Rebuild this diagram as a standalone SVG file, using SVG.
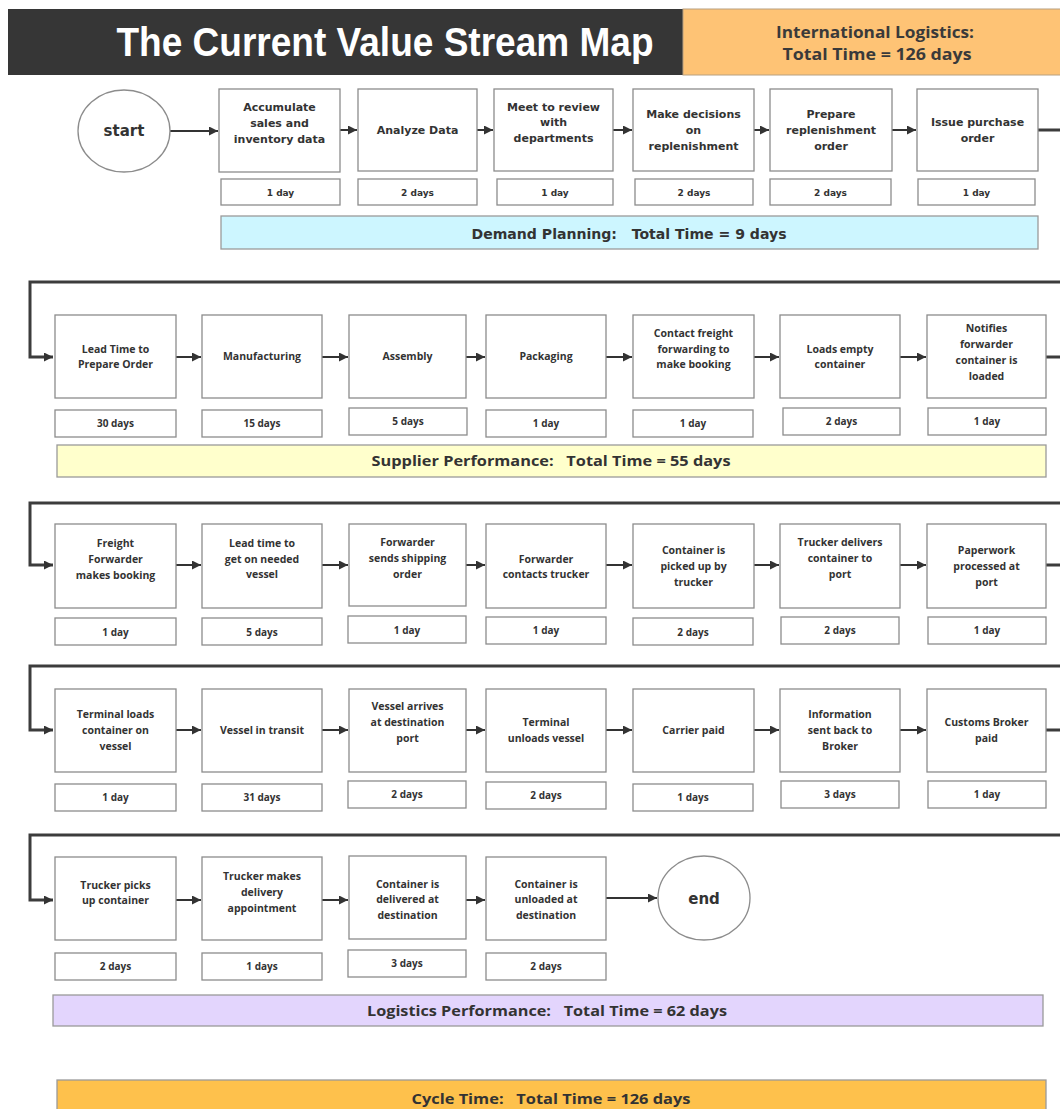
<svg xmlns="http://www.w3.org/2000/svg" width="1060" height="1109" viewBox="0 0 1060 1109">
  <defs>
    <style>
      .bg { fill: #ffffff; }
      .box { fill: #ffffff; stroke: #8c8c8c; stroke-width: 1.3; }
      .oval { fill: #ffffff; stroke: #8c8c8c; stroke-width: 1.3; }
      .t1 { font-family: "DejaVu Sans", Verdana, sans-serif; font-weight: bold; font-size: 11px; fill: #333333; text-anchor: middle; }
      .d1 { font-family: "DejaVu Sans", Verdana, sans-serif; font-weight: bold; font-size: 9px; fill: #333333; text-anchor: middle; }
      .t2 { font-family: "Open Sans", "DejaVu Sans", sans-serif; font-weight: bold; font-size: 10.5px; fill: #333333; text-anchor: middle; }
      .d2 { font-family: "Open Sans", "DejaVu Sans", sans-serif; font-weight: bold; font-size: 10px; fill: #333333; text-anchor: middle; }
      .term { font-family: "DejaVu Sans", Verdana, sans-serif; font-weight: bold; font-size: 15px; fill: #333333; text-anchor: middle; }
      .bar { stroke: #9a9a9a; stroke-width: 1.3; }
      .bartxt { font-family: "Open Sans", "DejaVu Sans", sans-serif; font-weight: bold; font-size: 14.5px; fill: #333333; text-anchor: middle; white-space: pre; }
      .flow { fill: none; stroke: #333333; stroke-width: 2; }
      .wrap { fill: none; stroke: #3c3c3c; stroke-width: 3; }
    </style>
    <marker id="ah" viewBox="0 0 10 10" refX="10" refY="5" markerWidth="10" markerHeight="9" markerUnits="userSpaceOnUse" orient="auto">
      <path d="M0,0 L10,5 L0,10 z" fill="#333333"/>
    </marker>
  </defs>

  <rect class="bg" x="0" y="0" width="1060" height="1109"/>

  <!-- title banner -->
  <g id="header">
    <rect x="8" y="9" width="675" height="66" fill="#363636"/>
    <text x="385" y="56" font-family="Liberation Sans, Arial, sans-serif" font-weight="bold" font-size="40" fill="#ffffff" text-anchor="middle" textLength="537" lengthAdjust="spacingAndGlyphs">The Current Value Stream Map</text>
    <rect x="683" y="9" width="380" height="66" fill="#fec375" stroke="#b8a080" stroke-width="1"/>
    <text x="875" y="38" font-family="Open Sans, DejaVu Sans, sans-serif" font-weight="bold" font-size="16" fill="#3a3a3a" text-anchor="middle" textLength="198" lengthAdjust="spacingAndGlyphs">International Logistics:</text>
    <text x="877" y="60" font-family="Open Sans, DejaVu Sans, sans-serif" font-weight="bold" font-size="16" fill="#3a3a3a" text-anchor="middle" textLength="189" lengthAdjust="spacingAndGlyphs">Total Time = 126 days</text>
  </g>

  <!-- connectors -->
  <g id="connectors">
    <!-- row 1 -->
    <path class="flow" d="M170,131 H218" marker-end="url(#ah)"/>
    <path class="flow" d="M340,130 H357" marker-end="url(#ah)"/>
    <path class="flow" d="M477,130 H493" marker-end="url(#ah)"/>
    <path class="flow" d="M613,130 H632" marker-end="url(#ah)"/>
    <path class="flow" d="M754,130 H769" marker-end="url(#ah)"/>
    <path class="flow" d="M892,130 H916" marker-end="url(#ah)"/>
    <path class="wrap" d="M1038,130 H1075 V282 H30 V357 H53" marker-end="url(#ah)"/>
    <!-- row 2 -->
    <path class="flow" d="M176,357 H201" marker-end="url(#ah)"/>
    <path class="flow" d="M322,357 H348" marker-end="url(#ah)"/>
    <path class="flow" d="M466,357 H485" marker-end="url(#ah)"/>
    <path class="flow" d="M606,357 H632" marker-end="url(#ah)"/>
    <path class="flow" d="M754,357 H779" marker-end="url(#ah)"/>
    <path class="flow" d="M900,357 H926" marker-end="url(#ah)"/>
    <path class="wrap" d="M1046,357 H1075 V503 H30 V565 H53" marker-end="url(#ah)"/>
    <!-- row 3 -->
    <path class="flow" d="M176,565 H201" marker-end="url(#ah)"/>
    <path class="flow" d="M322,565 H348" marker-end="url(#ah)"/>
    <path class="flow" d="M466,565 H485" marker-end="url(#ah)"/>
    <path class="flow" d="M606,565 H632" marker-end="url(#ah)"/>
    <path class="flow" d="M754,565 H779" marker-end="url(#ah)"/>
    <path class="flow" d="M900,565 H926" marker-end="url(#ah)"/>
    <path class="wrap" d="M1046,565 H1075 V666 H30 V730 H53" marker-end="url(#ah)"/>
    <!-- row 4 -->
    <path class="flow" d="M176,730 H201" marker-end="url(#ah)"/>
    <path class="flow" d="M322,730 H348" marker-end="url(#ah)"/>
    <path class="flow" d="M466,730 H485" marker-end="url(#ah)"/>
    <path class="flow" d="M606,730 H632" marker-end="url(#ah)"/>
    <path class="flow" d="M754,730 H779" marker-end="url(#ah)"/>
    <path class="flow" d="M900,730 H926" marker-end="url(#ah)"/>
    <path class="wrap" d="M1046,730 H1075 V835 H30 V900 H53" marker-end="url(#ah)"/>
    <!-- row 5 -->
    <path class="flow" d="M176,900 H201" marker-end="url(#ah)"/>
    <path class="flow" d="M322,900 H348" marker-end="url(#ah)"/>
    <path class="flow" d="M466,900 H485" marker-end="url(#ah)"/>
    <path class="flow" d="M606,898 H657" marker-end="url(#ah)"/>
  </g>

  <!-- row 1: demand planning -->
  <g id="start">
    <ellipse class="oval" cx="124" cy="131" rx="46" ry="41"/>
    <text class="term" x="124" y="136">start</text>
  </g>
  <g id="accumulate">
    <rect class="box" x="219" y="89" width="121" height="83"/>
    <text class="t1" x="279.5"><tspan x="279.5" y="111">Accumulate</tspan><tspan x="279.5" y="127">sales and</tspan><tspan x="279.5" y="143">inventory data</tspan></text>
    <rect class="box" x="221" y="179" width="119" height="26"/>
    <text class="d1" x="280.5" y="196">1 day</text>
  </g>
  <g id="analyze">
    <rect class="box" x="358" y="89" width="119" height="82"/>
    <text class="t1" x="417.5" y="134">Analyze Data</text>
    <rect class="box" x="358" y="179" width="119" height="26"/>
    <text class="d1" x="417.5" y="196">2 days</text>
  </g>
  <g id="meet">
    <rect class="box" x="494" y="89" width="119" height="82"/>
    <text class="t1"><tspan x="553.5" y="111">Meet to review</tspan><tspan x="553.5" y="126">with</tspan><tspan x="553.5" y="142">departments</tspan></text>
    <rect class="box" x="497" y="179" width="116" height="26"/>
    <text class="d1" x="555" y="196">1 day</text>
  </g>
  <g id="decisions">
    <rect class="box" x="633" y="89" width="121" height="82"/>
    <text class="t1"><tspan x="693.5" y="118">Make decisions</tspan><tspan x="693.5" y="134">on</tspan><tspan x="693.5" y="150">replenishment</tspan></text>
    <rect class="box" x="635" y="179" width="118" height="26"/>
    <text class="d1" x="694" y="196">2 days</text>
  </g>
  <g id="prepare">
    <rect class="box" x="770" y="89" width="122" height="82"/>
    <text class="t1"><tspan x="831" y="118">Prepare</tspan><tspan x="831" y="134">replenishment</tspan><tspan x="831" y="150">order</tspan></text>
    <rect class="box" x="770" y="179" width="121" height="26"/>
    <text class="d1" x="830.5" y="196">2 days</text>
  </g>
  <g id="issue">
    <rect class="box" x="917" y="89" width="121" height="82"/>
    <text class="t1"><tspan x="977.5" y="126">Issue purchase</tspan><tspan x="977.5" y="142">order</tspan></text>
    <rect class="box" x="918" y="179" width="117" height="26"/>
    <text class="d1" x="976.5" y="196">1 day</text>
  </g>
  <g id="demand-planning">
    <rect class="bar" x="221" y="216" width="817" height="33" fill="#cdf6ff"/>
    <text x="629" y="239" font-family="DejaVu Sans, Verdana, sans-serif" font-weight="bold" font-size="13.5" fill="#333333" text-anchor="middle" xml:space="preserve" textLength="315" lengthAdjust="spacingAndGlyphs">Demand Planning:   Total Time = 9 days</text>
  </g>

  <!-- row 2: supplier -->
  <g id="lead-time-prepare">
    <rect class="box" x="55" y="315" width="121" height="83"/>
    <text class="t2"><tspan x="115.5" y="353">Lead Time to</tspan><tspan x="115.5" y="368">Prepare Order</tspan></text>
    <rect class="box" x="55" y="410" width="121" height="27"/>
    <text class="d2" x="115.5" y="427">30 days</text>
  </g>
  <g id="manufacturing">
    <rect class="box" x="202" y="315" width="120" height="83"/>
    <text class="t2" x="262" y="360">Manufacturing</text>
    <rect class="box" x="202" y="410" width="120" height="27"/>
    <text class="d2" x="262" y="427">15 days</text>
  </g>
  <g id="assembly">
    <rect class="box" x="349" y="315" width="117" height="83"/>
    <text class="t2" x="407.5" y="360">Assembly</text>
    <rect class="box" x="349" y="408" width="118" height="27"/>
    <text class="d2" x="408" y="425">5 days</text>
  </g>
  <g id="packaging">
    <rect class="box" x="486" y="315" width="120" height="83"/>
    <text class="t2" x="546" y="360">Packaging</text>
    <rect class="box" x="486" y="410" width="120" height="27"/>
    <text class="d2" x="546" y="427">1 day</text>
  </g>
  <g id="contact-freight">
    <rect class="box" x="633" y="315" width="121" height="83"/>
    <text class="t2"><tspan x="693.5" y="337">Contact freight</tspan><tspan x="693.5" y="353">forwarding to</tspan><tspan x="693.5" y="368">make booking</tspan></text>
    <rect class="box" x="633" y="410" width="120" height="27"/>
    <text class="d2" x="693" y="427">1 day</text>
  </g>
  <g id="loads-empty">
    <rect class="box" x="780" y="315" width="120" height="83"/>
    <text class="t2"><tspan x="840" y="353">Loads empty</tspan><tspan x="840" y="368">container</tspan></text>
    <rect class="box" x="783" y="408" width="117" height="27"/>
    <text class="d2" x="841.5" y="425">2 days</text>
  </g>
  <g id="notifies">
    <rect class="box" x="927" y="315" width="119" height="83"/>
    <text class="t2"><tspan x="986.5" y="332">Notifies</tspan><tspan x="986.5" y="348">forwarder</tspan><tspan x="986.5" y="364">container is</tspan><tspan x="986.5" y="380">loaded</tspan></text>
    <rect class="box" x="928" y="408" width="118" height="27"/>
    <text class="d2" x="987" y="425">1 day</text>
  </g>
  <g id="supplier-performance">
    <rect class="bar" x="57" y="445" width="989" height="32" fill="#ffffcc"/>
    <text class="bartxt" x="551" y="466" xml:space="preserve" textLength="359" lengthAdjust="spacingAndGlyphs">Supplier Performance:   Total Time = 55 days</text>
  </g>

  <!-- row 3 -->
  <g id="freight-booking">
    <rect class="box" x="55" y="524" width="121" height="84"/>
    <text class="t2"><tspan x="115.5" y="547">Freight</tspan><tspan x="115.5" y="563">Forwarder</tspan><tspan x="115.5" y="579">makes booking</tspan></text>
    <rect class="box" x="55" y="618" width="121" height="27"/>
    <text class="d2" x="115.5" y="636">1 day</text>
  </g>
  <g id="lead-time-vessel">
    <rect class="box" x="202" y="524" width="120" height="84"/>
    <text class="t2"><tspan x="262" y="547">Lead time to</tspan><tspan x="262" y="563">get on needed</tspan><tspan x="262" y="578">vessel</tspan></text>
    <rect class="box" x="202" y="618" width="120" height="27"/>
    <text class="d2" x="262" y="636">5 days</text>
  </g>
  <g id="shipping-order">
    <rect class="box" x="349" y="524" width="117" height="82"/>
    <text class="t2"><tspan x="407.5" y="546">Forwarder</tspan><tspan x="407.5" y="562">sends shipping</tspan><tspan x="407.5" y="578">order</tspan></text>
    <rect class="box" x="348" y="616" width="118" height="27"/>
    <text class="d2" x="407" y="634">1 day</text>
  </g>
  <g id="contacts-trucker">
    <rect class="box" x="486" y="524" width="120" height="84"/>
    <text class="t2"><tspan x="546" y="563">Forwarder</tspan><tspan x="546" y="578">contacts trucker</tspan></text>
    <rect class="box" x="486" y="617" width="120" height="27"/>
    <text class="d2" x="546" y="634">1 day</text>
  </g>
  <g id="picked-up">
    <rect class="box" x="633" y="524" width="121" height="84"/>
    <text class="t2"><tspan x="693.5" y="554">Container is</tspan><tspan x="693.5" y="570">picked up by</tspan><tspan x="693.5" y="586">trucker</tspan></text>
    <rect class="box" x="633" y="618" width="120" height="27"/>
    <text class="d2" x="693" y="636">2 days</text>
  </g>
  <g id="delivers-port">
    <rect class="box" x="780" y="524" width="120" height="84"/>
    <text class="t2"><tspan x="840" y="546">Trucker delivers</tspan><tspan x="840" y="562">container to</tspan><tspan x="840" y="578">port</tspan></text>
    <rect class="box" x="781" y="617" width="118" height="27"/>
    <text class="d2" x="840" y="634">2 days</text>
  </g>
  <g id="paperwork">
    <rect class="box" x="927" y="524" width="119" height="84"/>
    <text class="t2"><tspan x="986.5" y="554">Paperwork</tspan><tspan x="986.5" y="570">processed at</tspan><tspan x="986.5" y="586">port</tspan></text>
    <rect class="box" x="928" y="617" width="118" height="27"/>
    <text class="d2" x="987" y="634">1 day</text>
  </g>

  <!-- row 4 -->
  <g id="terminal-loads">
    <rect class="box" x="55" y="689" width="121" height="83"/>
    <text class="t2"><tspan x="115.5" y="718">Terminal loads</tspan><tspan x="115.5" y="734">container on</tspan><tspan x="115.5" y="750">vessel</tspan></text>
    <rect class="box" x="55" y="784" width="121" height="27"/>
    <text class="d2" x="115.5" y="801">1 day</text>
  </g>
  <g id="vessel-transit">
    <rect class="box" x="202" y="689" width="120" height="83"/>
    <text class="t2" x="262" y="734">Vessel in transit</text>
    <rect class="box" x="202" y="784" width="120" height="27"/>
    <text class="d2" x="262" y="801">31 days</text>
  </g>
  <g id="vessel-arrives">
    <rect class="box" x="349" y="689" width="117" height="83"/>
    <text class="t2"><tspan x="407.5" y="710">Vessel arrives</tspan><tspan x="407.5" y="726">at destination</tspan><tspan x="407.5" y="742">port</tspan></text>
    <rect class="box" x="348" y="781" width="118" height="27"/>
    <text class="d2" x="407" y="798">2 days</text>
  </g>
  <g id="terminal-unloads">
    <rect class="box" x="486" y="689" width="120" height="83"/>
    <text class="t2"><tspan x="546" y="726">Terminal</tspan><tspan x="546" y="742">unloads vessel</tspan></text>
    <rect class="box" x="486" y="782" width="120" height="27"/>
    <text class="d2" x="546" y="799">2 days</text>
  </g>
  <g id="carrier-paid">
    <rect class="box" x="633" y="689" width="121" height="83"/>
    <text class="t2" x="693.5" y="734">Carrier paid</text>
    <rect class="box" x="633" y="784" width="120" height="27"/>
    <text class="d2" x="693" y="801">1 days</text>
  </g>
  <g id="information-sent">
    <rect class="box" x="780" y="689" width="120" height="83"/>
    <text class="t2"><tspan x="840" y="718">Information</tspan><tspan x="840" y="734">sent back to</tspan><tspan x="840" y="750">Broker</tspan></text>
    <rect class="box" x="781" y="781" width="118" height="27"/>
    <text class="d2" x="840" y="798">3 days</text>
  </g>
  <g id="customs-broker">
    <rect class="box" x="927" y="689" width="119" height="83"/>
    <text class="t2"><tspan x="986.5" y="726">Customs Broker</tspan><tspan x="986.5" y="742">paid</tspan></text>
    <rect class="box" x="928" y="781" width="118" height="27"/>
    <text class="d2" x="987" y="798">1 day</text>
  </g>

  <!-- row 5 -->
  <g id="trucker-picks">
    <rect class="box" x="55" y="857" width="121" height="83"/>
    <text class="t2"><tspan x="115.5" y="889">Trucker picks</tspan><tspan x="115.5" y="904">up container</tspan></text>
    <rect class="box" x="55" y="953" width="121" height="27"/>
    <text class="d2" x="115.5" y="970">2 days</text>
  </g>
  <g id="delivery-appointment">
    <rect class="box" x="202" y="857" width="120" height="83"/>
    <text class="t2"><tspan x="262" y="880">Trucker makes</tspan><tspan x="262" y="896">delivery</tspan><tspan x="262" y="912">appointment</tspan></text>
    <rect class="box" x="202" y="953" width="120" height="27"/>
    <text class="d2" x="262" y="970">1 days</text>
  </g>
  <g id="delivered-destination">
    <rect class="box" x="349" y="856" width="117" height="83"/>
    <text class="t2"><tspan x="407.5" y="888">Container is</tspan><tspan x="407.5" y="903">delivered at</tspan><tspan x="407.5" y="919">destination</tspan></text>
    <rect class="box" x="348" y="950" width="118" height="27"/>
    <text class="d2" x="407" y="967">3 days</text>
  </g>
  <g id="unloaded-destination">
    <rect class="box" x="486" y="857" width="120" height="83"/>
    <text class="t2"><tspan x="546" y="888">Container is</tspan><tspan x="546" y="903">unloaded at</tspan><tspan x="546" y="919">destination</tspan></text>
    <rect class="box" x="486" y="953" width="120" height="27"/>
    <text class="d2" x="546" y="970">2 days</text>
  </g>
  <g id="end">
    <ellipse class="oval" cx="704" cy="898" rx="46" ry="42"/>
    <text class="term" x="704" y="904">end</text>
  </g>

  <g id="logistics-performance">
    <rect class="bar" x="53" y="995" width="990" height="31" fill="#e3d5fd"/>
    <text class="bartxt" x="547" y="1016" xml:space="preserve" textLength="360" lengthAdjust="spacingAndGlyphs">Logistics Performance:   Total Time = 62 days</text>
  </g>

  <g id="cycle-time">
    <rect class="bar" x="57" y="1080" width="989" height="40" fill="#fec14c"/>
    <text class="bartxt" x="551" y="1104" xml:space="preserve" textLength="279" lengthAdjust="spacingAndGlyphs">Cycle Time:   Total Time = 126 days</text>
  </g>
</svg>
